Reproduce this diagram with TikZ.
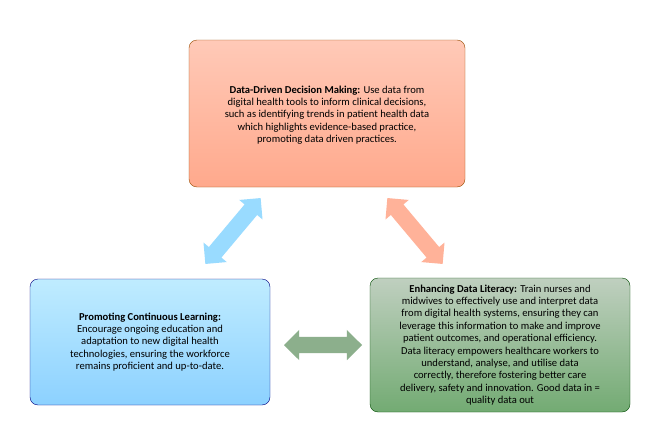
\documentclass[tikz,border=0pt]{standalone}
\usepackage{fontspec}
\setmainfont{Carlito}
\usetikzlibrary{shapes.arrows}
\begin{document}
\begin{tikzpicture}[x=1pt,y=-1pt,
  box/.style={align=center,font=\fontsize{10.6}{12.4}\selectfont,inner sep=2pt},
  dbl/.style={double arrow,double arrow head extend=7pt,minimum height=#1,minimum width=30pt,inner xsep=0pt,inner ysep=8pt,draw=none}]
\useasboundingbox (0,0) rectangle (659,423);
\fill[white] (0,0) rectangle (659,423);
\shade[top color=orange!20!pink!70!white,bottom color=orange!50!red!45!white,rounded corners=8pt,draw=orange!60!black] (189,40) rectangle (465,187);
\node[box] (top) at (327,115) {\textbf{Data-Driven Decision Making:} Use data from\\digital health tools to inform clinical decisions,\\such as identifying trends in patient health data\\which highlights evidence-based practice,\\promoting data driven practices.};
\shade[top color=blue!30!cyan!25!white,bottom color=blue!40!cyan!45!white,rounded corners=8pt,draw=blue!50!black] (30,279) rectangle (270,405);
\node[box] (left) at (150,342) {\textbf{Promoting Continuous Learning:}\\Encourage ongoing education and\\adaptation to new digital health\\technologies, ensuring the workforce\\remains proficient and up-to-date.};
\shade[top color=green!25!black!25!white,bottom color=green!40!black!55!white,rounded corners=8pt,draw=green!30!black] (370,278) rectangle (630,412);
\node[box] (right) at (500,345) {\textbf{Enhancing Data Literacy:} Train nurses and\\midwives to effectively use and interpret data\\from digital health systems, ensuring they can\\leverage this information to make and improve\\patient outcomes, and operational efficiency.\\Data literacy empowers healthcare workers to\\understand, analyse, and utilise data\\correctly, therefore fostering better care\\delivery, safety and innovation. Good data in =\\quality data out};
\coordinate (a1) at (233,231);
\node[dbl=86pt,rotate=50,fill=blue!35!cyan!40!white] (ba) at (a1) {};
\coordinate (a2) at (415,231);
\node[dbl=86pt,rotate=-50,fill=orange!50!red!40!white] (sa) at (a2) {};
\coordinate (a3) at (323,345);
\node[dbl=78pt,fill=green!30!black!45!white] (ga) at (a3) {};
\end{tikzpicture}
\end{document}
